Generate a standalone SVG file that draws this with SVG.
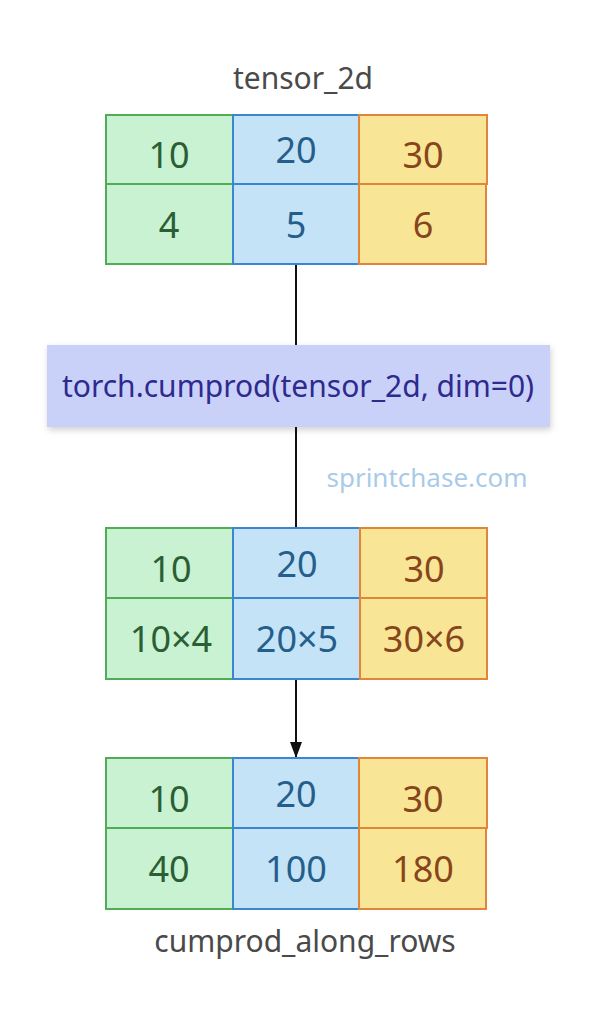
<svg xmlns="http://www.w3.org/2000/svg" width="612" height="1024" viewBox="0 0 612 1024">
<style>
  text { font-family: "Noto Sans", "Open Sans", "DejaVu Sans", sans-serif; text-anchor: middle; }
  .g { fill: #c8f2d2; stroke: #4fae55; stroke-width: 2; }
  .b { fill: #c5e3f7; stroke: #3b86d0; stroke-width: 2; }
  .y { fill: #f9e596; stroke: #e0853a; stroke-width: 2; }
  .gt { fill: #2c5e33; font-size: 36px; }
  .bt { fill: #245f8c; font-size: 36px; }
  .yt { fill: #87451c; font-size: 36px; }
  .lbl { fill: #4a4a4a; font-size: 30px; }
  .edge { stroke: #111; stroke-width: 2; fill: none; }
</style>
<defs>
  <marker id="arr" markerWidth="16" markerHeight="12" refX="16" refY="6" orient="auto" markerUnits="userSpaceOnUse">
    <path d="M0,0 L16,6 L0,12 Z" fill="#111"/>
  </marker>
  <filter id="sh" x="-10%" y="-20%" width="120%" height="150%">
    <feDropShadow dx="1" dy="3" stdDeviation="3" flood-color="#000" flood-opacity="0.18"/>
  </filter>
</defs>
<rect width="612" height="1024" fill="#fff"/>

<g id="connectors">
  <line class="edge" x1="296" y1="264" x2="296" y2="345"/>
  <line class="edge" x1="296" y1="427" x2="296" y2="528"/>
  <line class="edge" x1="296" y1="679" x2="296" y2="758" marker-end="url(#arr)"/>
</g>

<g id="tensor_2d">
  <text class="lbl" x="303" y="89">tensor_2d</text>
  <rect class="g" x="106" y="115" width="127" height="69"/>
  <rect class="b" x="233" y="115" width="126" height="69"/>
  <rect class="y" x="359" y="115" width="128" height="69"/>
  <rect class="g" x="106" y="184" width="127" height="80"/>
  <rect class="b" x="233" y="184" width="126" height="80"/>
  <rect class="y" x="359" y="184" width="127" height="80"/>
  <text class="gt" x="169" y="168">10</text>
  <text class="bt" x="296" y="163">20</text>
  <text class="yt" x="423" y="168">30</text>
  <text class="gt" x="169" y="238">4</text>
  <text class="bt" x="296" y="238">5</text>
  <text class="yt" x="423" y="238">6</text>
</g>

<g id="op">
  <rect x="47" y="345" width="503" height="82" fill="#c9d1f9" filter="url(#sh)"/>
  <text x="298" y="397" fill="#2e2a8e" font-size="30px">torch.cumprod(tensor_2d, dim=0)</text>
</g>

<g id="watermark">
  <text x="427" y="487" fill="#a9cbe9" font-size="26px">sprintchase.com</text>
</g>

<g id="intermediate">
  <rect class="g" x="106" y="528" width="127" height="70"/>
  <rect class="b" x="233" y="528" width="127" height="70"/>
  <rect class="y" x="360" y="528" width="127" height="70"/>
  <rect class="g" x="106" y="598" width="127" height="81"/>
  <rect class="b" x="233" y="598" width="127" height="81"/>
  <rect class="y" x="360" y="598" width="127" height="81"/>
  <text class="gt" x="171" y="582">10</text>
  <text class="bt" x="297" y="577">20</text>
  <text class="yt" x="424" y="582">30</text>
  <text class="gt" x="171" y="652">10×4</text>
  <text class="bt" x="297" y="652">20×5</text>
  <text class="yt" x="424" y="652">30×6</text>
</g>

<g id="cumprod_along_rows">
  <rect class="g" x="106" y="758" width="127" height="70"/>
  <rect class="b" x="233" y="758" width="126" height="70"/>
  <rect class="y" x="359" y="758" width="128" height="70"/>
  <rect class="g" x="106" y="828" width="127" height="81"/>
  <rect class="b" x="233" y="828" width="126" height="81"/>
  <rect class="y" x="359" y="828" width="127" height="81"/>
  <text class="gt" x="169" y="812">10</text>
  <text class="bt" x="296" y="807">20</text>
  <text class="yt" x="423" y="812">30</text>
  <text class="gt" x="169" y="882">40</text>
  <text class="bt" x="296" y="882">100</text>
  <text class="yt" x="423" y="882">180</text>
  <text class="lbl" x="305" y="952">cumprod_along_rows</text>
</g>
</svg>
